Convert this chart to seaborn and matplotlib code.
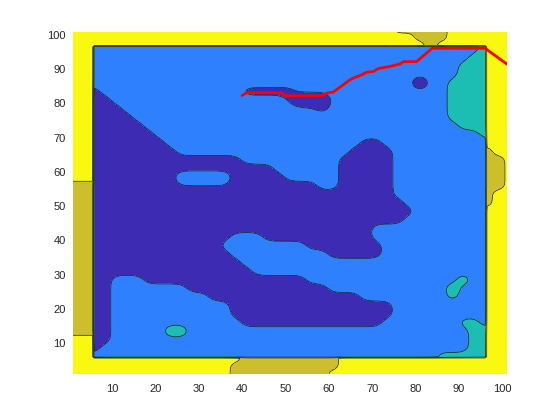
import matplotlib
matplotlib.use("Agg")
import matplotlib.pyplot as plt
import numpy as np
import seaborn as sns

# sample positions of the level map (denser at the walls of the frame)
x_coords = [1, 3, 5.2] + [6 + 2.5 * k for k in range(37)] + [96.9, 99, 101]
y_coords = [1, 3, 5.2] + [6 + 2.5 * k for k in range(37)] + [97.8, 99, 101]

# level map, top row first
# '#' lowest band, '.' second, 't' third, 'o' fourth, 'y' top band
# '@', 'B', 'T' mark the core of a small patch, ':' a point just inside a purple edge
level_map = [
    "yyy" "yyyyyyyyyy" "yyyyyyyyyy" "yyyyyyyyoo" "oooyyyy" "yyy",  # 101
    "yyy" "yyyyyyyyyy" "yyyyyyyyyy" "yyyyyyyyyy" "oooyyyy" "yyy",  # 99
    "yyy" "yyyyyyyyyy" "yyyyyyyyyy" "yyyyyyyyyy" "yoyyyyy" "yyy",  # 97.8
    "yyy" ".........." ".........." ".........." "......t" "yyy",  # 96
    "yyy" ".........." ".........." ".........." ".....tt" "yyy",  # 93.5
    "yyy" ".........." ".........." ".........." "....ttt" "yyy",  # 91
    "yyy" ".........." ".........." ".........." "....ttt" "yyy",  # 88.5
    "yyy" ".........." ".........." ".........." "@..tttt" "yyy",  # 86
    "yyy" "#........." "....#####." ".........." "...tttt" "yyy",  # 83.5
    "yyy" "##........" "........:@" "@@........" "...tttt" "yyy",  # 81
    "yyy" "###......." ".........." ".#........" "...tttt" "yyy",  # 78.5
    "yyy" "####......" ".........." ".........." "...tttt" "yyy",  # 76
    "yyy" "#####....." ".........." ".........." "....ttt" "yyy",  # 73.5
    "yyy" "######...." ".........." ".........." "......t" "yyy",  # 71
    "yyy" "#######..." ".........." ".....##..." "......." "yyy",  # 68.5
    "yyy" "########.." ".........." "....####.." "......." "oyy",  # 66
    "yyy" "##########" "####......" "...#####.." "......." "ooy",  # 63.5
    "yyy" "##########" "#######..." "...#####.." "......." "ooy",  # 61
    "yyy" "########BB" "BBB#####.." "...#####.." "......." "ooy",  # 58.5
    "ooo" "########::" ":::#######" "#..#####.." "......." "ooy",  # 56
    "ooo" "##########" "##########" "########.." "......." "oyy",  # 53.5
    "ooo" "##########" "##########" "#########." "......." "oyy",  # 51
    "ooo" "##########" "##########" "##########" "......." "yyy",  # 48.5
    "ooo" "##########" "##########" "#########." "......." "yyy",  # 46
    "ooo" "##########" "##########" "######...." "......." "yyy",  # 43.5
    "ooo" "##########" "###...####" "######...." "......." "yyy",  # 41
    "ooo" "##########" "##........" "#######..." "......." "yyy",  # 38.5
    "ooo" "##########" "###......." "..#####..." "......." "yyy",  # 36
    "ooo" "##########" "####......" ".........." "......." "yyy",  # 33.5
    "ooo" "##########" "#####....." ".........." "......." "yyy",  # 31
    "ooo" "##...#####" "##########" ".........." "....T.." "yyy",  # 28.5
    "ooo" "##.......#" "##########" "##........" "...T..." "yyy",  # 26
    "ooo" "##........" ".#########" "#####....." "...t..." "yyy",  # 23.5
    "ooo" "##........" "...#######" "########.." "......." "yyy",  # 21
    "ooo" "##........" "...#######" "########.." "......." "yyy",  # 18.5
    "ooo" "##........" "....######" "#######..." "....tt." "yyy",  # 16
    "ooo" "##.....TT." ".........." ".........." ".....tt" "yyy",  # 13.5
    "yyy" "##........" ".........." ".........." ".....tt" "yyy",  # 11
    "yyy" "#........." ".........." ".........." ".....tt" "yyy",  # 8.5
    "yyy" ".........." ".........." ".........." "..ttttt" "yyy",  # 6
    "yyy" "yyyyyyyyyy" "yyyyoooooo" "oooyyyyyyy" "yyyyyyy" "yyy",  # 5.2
    "yyy" "yyyyyyyyyy" "yyyooooooo" "oooyyyyyyy" "yyyyyyy" "yyy",  # 3
    "yyy" "yyyyyyyyyy" "yyyooooooo" "ooyyyyyyyy" "yyyyyyy" "yyy",  # 1
]
level_of = {"@": -1.2, "#": 0, ":": 0.4, ".": 1, "B": 1.45, "t": 2, "T": 2.49, "o": 3, "y": 4}

# red path
path_x = [40, 41, 49, 50, 58.5, 59.5, 61, 65, 66, 67.5, 68.7, 70.2, 71.4, 73.7, 76.4, 77.2, 80.2, 83.8, 96, 101]
path_y = [82.3, 83.1, 83.1, 82.2, 82.2, 83, 83.3, 87, 87.6, 88.3, 89.1, 89.3, 90.2, 90.7, 91.5, 92.2, 92.2, 96.1, 96.1, 91.5]

levels = [-2, 0.5, 1.5, 2.5, 3.5, 4.5]
band_colors = ["#3D2BB3", "#2F80FE", "#1CBEB4", "#CDBE2B", "#F8F811"]


def blur(a, sigma):
    # separable gaussian, sigma in fine grid cells
    r = np.arange(-int(3 * sigma) - 1, int(3 * sigma) + 2)
    k = np.exp(-0.5 * (r / sigma) ** 2)
    k /= k.sum()
    a = np.apply_along_axis(lambda v: np.convolve(v, k, mode="same"), 0, a)
    return np.apply_along_axis(lambda v: np.convolve(v, k, mode="same"), 1, a)


Z = np.array([[level_of[c] for c in row] for row in level_map])[::-1]
xc = np.array(x_coords)
yc = np.array(y_coords)

# resample on a fine grid so the outlines come out rounded
g = np.arange(1, 101.01, 0.5)
ix = np.abs(g[:, None] - xc[None, :]).argmin(axis=1)
iy = np.abs(g[:, None] - yc[None, :]).argmin(axis=1)
inside = ((iy >= 3) & (iy <= 39))[:, None] & ((ix >= 3) & (ix <= 39))[None, :]

# interior: bilinear then a blur
Zint = Z[3:40, 3:40]
A = np.array([np.interp(g, xc[3:40], row) for row in Zint])
Zi = np.array([np.interp(g, yc[3:40], col) for col in A.T]).T
Zi = blur(Zi, 2.4)

# exterior: nearest sample, blurred only among exterior points
Zn = Z[iy][:, ix]
out = (~inside).astype(float)
Zo = blur(Zn * out, 2.0) / np.maximum(blur(out, 2.0), 1e-9)

Zs = np.where(inside, Zi, Zo)

sns.set_theme(style="white")
plt.rcParams["font.family"] = ["Liberation Sans", "DejaVu Sans"]

fig = plt.figure(figsize=(5.6, 4.2), dpi=100)
ax = fig.add_axes([0.13, 0.11, 0.775, 0.815])

ax.contourf(g, g, Zs, levels=levels, colors=band_colors)
ax.contour(g, g, Zs, levels=levels[1:-1], colors="k", linewidths=0.5)
sns.lineplot(x=path_x, y=path_y, sort=False, estimator=None, color="red", linewidth=2, ax=ax)

ax.set_xlim(1, 101)
ax.set_ylim(1, 101)
ax.set_xticks(range(10, 101, 10))
ax.set_yticks(range(10, 101, 10))
ax.tick_params(length=0, labelsize=8, colors="#262626")
ax.tick_params(axis="x", pad=7)
ax.tick_params(axis="y", pad=5)
for s in ax.spines.values():
    s.set_visible(False)

fig.savefig("out.png", dpi=100)
